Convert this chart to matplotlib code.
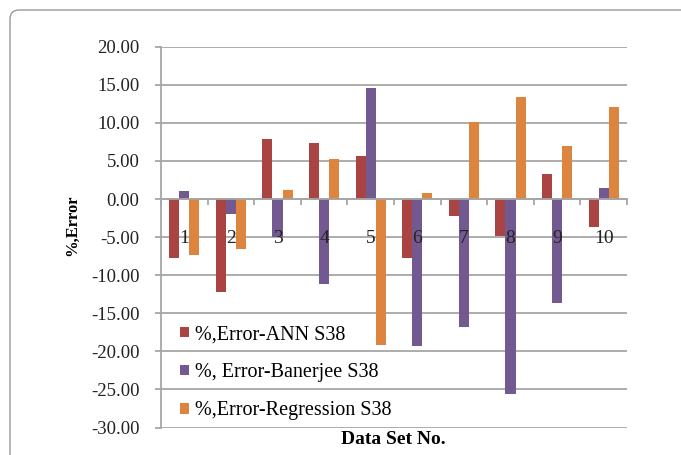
import matplotlib
matplotlib.use("Agg")
import matplotlib.pyplot as plt
import matplotlib.patches as mpatches
from matplotlib.transforms import IdentityTransform
import numpy as np

categories = ["1", "2", "3", "4", "5", "6", "7", "8", "9", "10"]
ann = [-7.7, -12.2, 7.9, 7.3, 5.6, -7.7, -2.2, -4.9, 3.3, -3.7]
banerjee = [1.1, -2.0, -5.0, -11.2, 14.6, -19.3, -16.8, -25.6, -13.7, 1.4]
regression = [-7.4, -6.5, 1.2, 5.2, -19.2, 0.8, 10.1, 13.4, 6.9, 12.1]
series_names = ["%,Error-ANN S38", "%, Error-Banerjee S38", "%,Error-Regression S38"]
yticks = [20, 15, 10, 5, 0, -5, -10, -15, -20, -25, -30]

colors = ["#A94442", "#725A91", "#DD843E"]
grid_c = "#A6A6A6"

plt.rcParams['font.family'] = ['Liberation Serif', 'DejaVu Serif']

fig = plt.figure(figsize=(6.81, 4.55), dpi=100)
ax = fig.add_axes([161/681, 1-427.5/455, (627-161)/681, (427.5-46.7)/455])

x = np.arange(1, len(categories)+1)
w = 0.215
handles = []
for i, (vals, c) in enumerate(zip([ann, banerjee, regression], colors)):
    b = ax.bar(x + (i-1)*w, vals, width=w, color=c, zorder=3, label=series_names[i])
    handles.append(b)

ax.set_xlim(0.5, 10.5)
ax.set_ylim(-30, 20)
ax.set_yticks(yticks)
ax.set_yticklabels([f"{v:.2f}" for v in yticks], fontsize=13.5, color="#222222")
ax.yaxis.grid(True, color=grid_c, linewidth=1.3, zorder=0)
ax.set_axisbelow(True)

for s in ["top", "right"]:
    ax.spines[s].set_visible(False)
ax.spines["left"].set_color(grid_c)
ax.spines["left"].set_linewidth(1.3)
ax.spines["bottom"].set_position(("data", 0))
ax.spines["bottom"].set_color(grid_c)
ax.spines["bottom"].set_linewidth(1.3)
ax.spines["bottom"].set_zorder(4)

ax.set_xticks(x)
ax.set_xticklabels(categories, fontsize=14, color="#222222")
ax.set_xticks(np.arange(0.5, 11, 1), minor=True)
ax.tick_params(axis="x", which="major", length=0, pad=22)
ax.tick_params(axis="x", which="minor", length=4, width=1.3, color=grid_c, direction="out")
ax.tick_params(axis="y", length=4.5, width=1.3, color=grid_c, pad=11)
ax.xaxis.set_zorder(5)

leg = ax.legend(handles=handles, loc="upper left", bbox_to_anchor=(0.024, 0.29),
                frameon=False, fontsize=14.5, handlelength=0.45, handleheight=0.45,
                handletextpad=0.3, labelspacing=0.95, borderaxespad=0)

fig.text(72/681, 1-225/455, "%,Error", rotation=90, ha="center", va="center",
         fontsize=12, fontweight="bold")
fig.text(393/681, 1-440/455, "Data Set No.", ha="center", va="center",
         fontsize=14, fontweight="bold")

frame = mpatches.FancyBboxPatch((10, -30), 720, 445+30, boxstyle="round,pad=0,rounding_size=9",
                                transform=IdentityTransform(), fill=False,
                                edgecolor="#9A9A9A", linewidth=1.0, clip_on=False)
fig.patches.append(frame)

fig.savefig("out.png", dpi=100)
